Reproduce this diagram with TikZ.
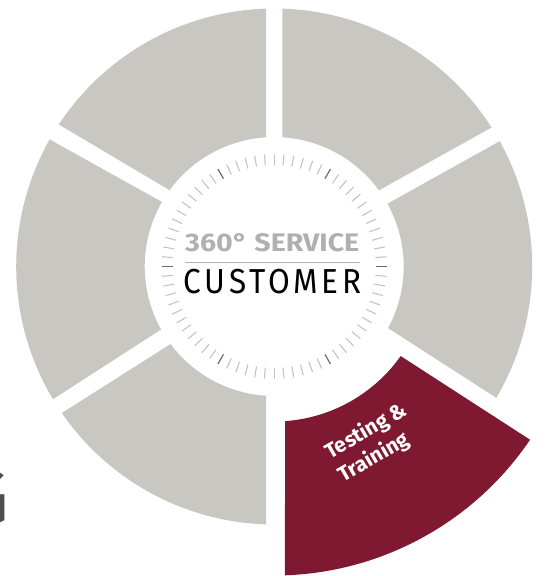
\documentclass[tikz,border=0pt]{standalone}
\usepackage{fontspec}
\setmainfont{Fira Sans}
\newfontfamily\firalight{Fira Sans}
\usetikzlibrary{calc}
\definecolor{ringgrey}{HTML}{C8C7C2}
\definecolor{wine}{HTML}{7E1931}
\definecolor{ticklight}{HTML}{C4C4C4}
\definecolor{tickdark}{HTML}{6E6E6E}
\definecolor{servicegrey}{HTML}{B0B0B0}
\definecolor{ggrey}{HTML}{4F4F4F}
\newcommand\ringseg[4]{\fill[segment] ($(C)+(#1:258)$) arc[start angle=#1,end angle=#2,radius=258] -- ($(C)+(#3:129.5)$) arc[start angle=#3,end angle=#4,radius=129.5] -- cycle;}
\begin{document}
\begin{tikzpicture}[x=1pt,y=1pt,
  segment/.style={fill=ringgrey},
  tickmark/.style={line width=1.1pt, ticklight},
  tickmajor/.style={line width=1.1pt, tickdark}]
\useasboundingbox (0,0) rectangle (545,-576);
\fill[white] (0,0) rectangle (545,-576);
\coordinate (C) at (274.2,-266.5);
% grey ring segments
\ringseg{91.8}{146.6}{143.9}{93.6}
\ringseg{150.5}{210.96}{209.1}{150.1}
\ringseg{214.6}{268.2}{266.4}{216.8}
\ringseg{32.6}{88.2}{86.4}{36.05}
\ringseg{-30.6}{29.06}{29.0}{-28.4}
% highlighted segment
\fill[wine] ($(C)+(-88:309)$) arc[start angle=-88,end angle=-34.1,radius=309] -- ($(C)+(-35.3:155)$) arc[start angle=-35.3,end angle=-86,radius=155] -- cycle;
% ticks
\foreach \a in {0,5,...,355} \draw[tickmark] ($(C)+(\a:101.5)$) -- ($(C)+(\a:112.5)$);
\foreach \a in {0,60,...,300} \draw[tickmajor] ($(C)+(\a:101.5)$) -- ($(C)+(\a:112.5)$);
% centre texts
\node[anchor=south west, inner sep=0, text=servicegrey] (svc) at (185,-252.3) {\resizebox{174pt}{18pt}{\bfseries 360° SERVICE}};
\coordinate (ruleL) at (185,-262.7);
\coordinate (ruleR) at (360,-262.7);
\draw[servicegrey, line width=0.8pt] (ruleL) -- (ruleR);
\node[anchor=south west, inner sep=0, text=black] (cust) at (183.3,-294.5) {\resizebox{178pt}{24.3pt}{\firalight\addfontfeature{LetterSpace=12}CUSTOMER}};
% segment label
\node[rotate=30, text=white, font=\bfseries\fontsize{21}{27}\selectfont, align=left, inner sep=0] (tt) at (373,-443) {Testing \&\\Training};
% cut-off letter at left
\node[anchor=east, inner sep=0, text=ggrey, font=\firalight\fontsize{78}{78}\selectfont] (g) at (9.5,-498) {G};
\end{tikzpicture}
\end{document}
